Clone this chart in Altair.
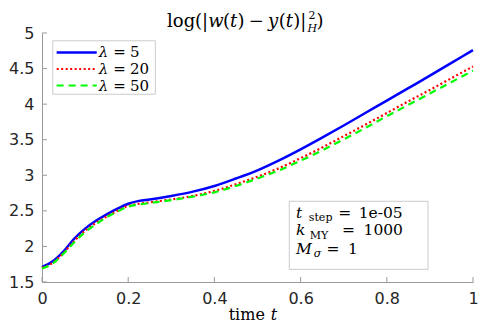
import altair as alt
import pandas as pd

# ---------------- data ----------------
t = [0, 0.025, 0.05, 0.075, 0.1, 0.125, 0.15, 0.175, 0.2, 0.225, 0.25, 0.3, 0.35,
     0.4, 0.45, 0.5, 0.55, 0.6, 0.65, 0.7, 0.75, 0.8, 0.85, 0.9, 0.95, 1.0]
lam5 = [1.71, 1.79, 1.93, 2.11, 2.25, 2.36, 2.45, 2.53, 2.60, 2.64, 2.66, 2.71, 2.77,
        2.85, 2.955, 3.07, 3.21, 3.365, 3.53, 3.70, 3.875, 4.05, 4.225, 4.40, 4.58, 4.76]
lam20 = [1.70, 1.77, 1.91, 2.08, 2.22, 2.33, 2.42, 2.50, 2.57, 2.60, 2.62, 2.66, 2.71,
         2.78, 2.875, 2.98, 3.10, 3.24, 3.39, 3.55, 3.71, 3.875, 4.04, 4.20, 4.365, 4.53]
lam50 = [1.69, 1.76, 1.90, 2.06, 2.20, 2.31, 2.41, 2.49, 2.56, 2.59, 2.61, 2.65, 2.70,
         2.76, 2.85, 2.955, 3.07, 3.205, 3.35, 3.505, 3.665, 3.83, 3.99, 4.15, 4.31, 4.47]
series_values = [lam5, lam20, lam50]
lam_labels = ["5", "20", "50"]
colors = ["#0000ff", "#ff0000", "#00ff00"]
dashes = [None, [2, 2.5], [7, 5]]
widths = [2.5, 2.2, 2.2]

x_ticks = [0, 0.2, 0.4, 0.6, 0.8, 1]
y_ticks = [1.5, 2, 2.5, 3, 3.5, 4, 4.5, 5]

info_lines = [("t", "step", "1e-05"), ("k", "MY", "1000"), ("M", "σ", "1")]

# ---------------- layout ----------------
W, H = 431, 249
AX = "#9a9a9a"
LAB = "#262626"
SERIF = "DejaVu Serif"


def X(ix):  # reference-picture x -> plot x
    return (ix - 42) * W / 441


def Y(iy):  # reference-picture y -> plot y
    return (iy - 29) * H / 256


xs = alt.Scale(domain=[0, 1], nice=False, zero=False)
ys = alt.Scale(domain=[1.5, 5], nice=False, zero=False)
one = pd.DataFrame({"a": [0]})

x_axis = alt.Axis(values=x_ticks, format="~g", title=None, labelPadding=8)
y_axis = alt.Axis(values=y_ticks, format="~g", title=None, labelPadding=8)


def txt(s, x, y, size, style="normal", color="#000000", font=SERIF):
    return alt.Chart(one).mark_text(
        align="left", baseline="alphabetic", fontSize=size, fontStyle=style,
        font=font, color=color
    ).encode(x=alt.value(x), y=alt.value(y), text=alt.value(s))


layers = []
for i, vals in enumerate(series_values):
    df = pd.DataFrame({"t": t, "v": vals})
    kw = dict(color=colors[i], strokeWidth=widths[i], interpolate="monotone")
    if dashes[i] is not None:
        kw["strokeDash"] = dashes[i]
    layers.append(
        alt.Chart(df).mark_line(**kw).encode(
            x=alt.X("t:Q", scale=xs, axis=x_axis),
            y=alt.Y("v:Q", scale=ys, axis=y_axis),
        )
    )

# inward ticks
layers.append(
    alt.Chart(pd.DataFrame({"t": x_ticks})).mark_rule(color=AX, strokeWidth=1).encode(
        x=alt.X("t:Q", scale=xs, axis=x_axis), y=alt.value(H), y2=alt.value(H - 5))
)
layers.append(
    alt.Chart(pd.DataFrame({"v": y_ticks})).mark_rule(color=AX, strokeWidth=1).encode(
        y=alt.Y("v:Q", scale=ys, axis=y_axis), x=alt.value(0), x2=alt.value(5))
)

# legend box
layers.append(
    alt.Chart(one).mark_rect(fill="white", stroke="#cccccc", strokeWidth=1).encode(
        x=alt.value(X(53)), x2=alt.value(X(158)), y=alt.value(Y(37)), y2=alt.value(Y(92)))
)
row_img_y = [49, 66, 83]
for i in range(3):
    kw = dict(color=colors[i], strokeWidth=widths[i])
    if dashes[i] is not None:
        kw["strokeDash"] = dashes[i]
    ry = Y(row_img_y[i])
    layers.append(
        alt.Chart(one).mark_rule(**kw).encode(
            x=alt.value(X(57)), x2=alt.value(X(98)), y=alt.value(ry))
    )
    layers.append(txt("λ", X(100), ry + 5, 15, "italic"))
    layers.append(txt("=", X(115), ry + 5, 15))
    layers.append(txt(lam_labels[i], X(132), ry + 5, 15))

# info box
layers.append(
    alt.Chart(one).mark_rect(fill="white", stroke="#cccccc", strokeWidth=1).encode(
        x=alt.value(X(295)), x2=alt.value(X(437)), y=alt.value(Y(202)), y2=alt.value(Y(272)))
)
info_pos = [  # baseline, subscript x, "=" x, value x (reference pixels)
    (219, 315, 345, 366),
    (237, 316, 349, 371),
    (256, 320, 333, 355),
]
for (main, sub, val), (by, sx, ex, vx) in zip(info_lines, info_pos):
    b = Y(by)
    layers.append(txt(main, X(302), b, 15.5, "italic"))
    layers.append(txt(sub, X(sx), b + 3.5, 11, "italic" if sub == "σ" else "normal"))
    layers.append(txt("=", X(ex), b, 15.5))
    layers.append(txt(val, X(vx), b, 15.5))

# title, laid out piece by piece
TS = 18
title_pieces = [  # text, advance (em), style, kind
    ("log", 1.557, "normal", "main"),
    ("(", 0.39, "normal", "main"),
    ("|", 0.337, "normal", "main"),
    ("w", 0.82, "italic", "main"),
    ("(", 0.39, "normal", "main"),
    ("t", 0.42, "italic", "main"),
    (")", 0.39, "normal", "main"),
    ("−", 1.30, "normal", "minus"),
    ("y", 0.60, "italic", "main"),
    ("(", 0.39, "normal", "main"),
    ("t", 0.42, "italic", "main"),
    (")", 0.39, "normal", "main"),
    ("|", 0.40, "normal", "main"),
    ("2H", 0.50, "normal", "supsub"),
    (")", 0.39, "normal", "main"),
]
total = sum(p[1] for p in title_pieces) * TS
cx = X(250) - total / 2
tb = -6
for s, adv, style, kind in title_pieces:
    if kind == "supsub":
        layers.append(txt("2", cx + 1, tb - 8, 11))
        layers.append(txt("H", cx, tb + 5, 11, "italic"))
    elif kind == "minus":
        layers.append(txt(s, cx + 0.23 * TS, tb, TS))
    else:
        layers.append(txt(s, cx, tb, TS, style))
    cx += adv * TS

# x-axis title
layers.append(txt("time", X(233), H + 38, 16))
layers.append(txt("t", X(233) + 42, H + 38, 16, "italic"))

chart = alt.layer(*layers).properties(
    width=W, height=H,
    autosize=alt.AutoSizeParams(type="none"),
    padding={"left": 34, "top": 25, "right": 5, "bottom": 44},
).configure_view(
    strokeWidth=0
).configure_axis(
    labelFont="DejaVu Sans", labelFontSize=16, labelColor=LAB, labelFlush=False,
    ticks=False, domainColor=AX, domainWidth=1, grid=False
)

chart.save("out.html", embed_options={"renderer": "svg", "actions": False})
